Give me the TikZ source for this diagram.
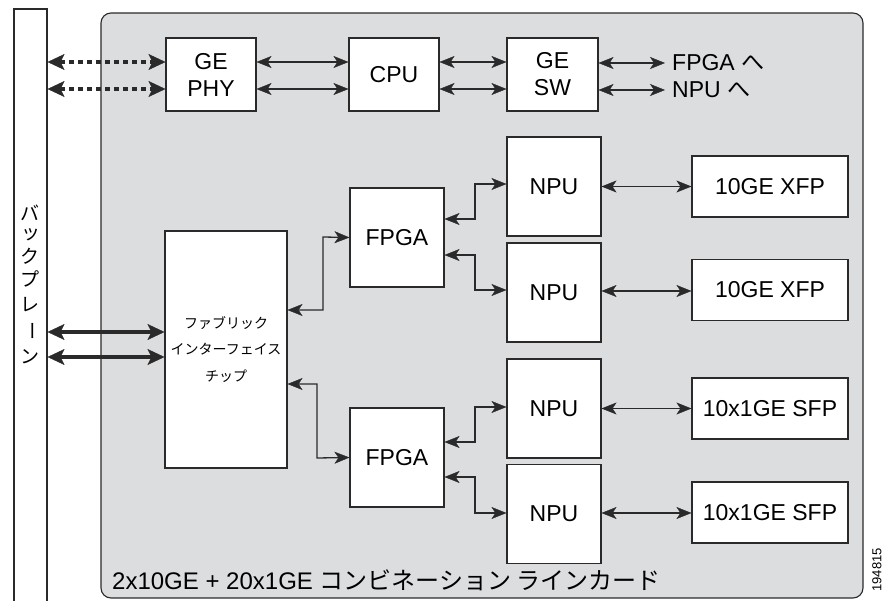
\documentclass[tikz,border=0pt]{standalone}
\usepackage{fontspec}
\usepackage{graphicx}
\setmainfont{Liberation Sans}
\newfontfamily\jp{Noto Sans CJK JP}
\usetikzlibrary{arrows.meta}
\definecolor{cardgray}{HTML}{DCDDDF}
\definecolor{ink}{HTML}{2A2A2A}
\begin{document}
\begin{tikzpicture}[x=1pt,y=-1pt,
  blk/.style={draw=ink, line width=1.1pt, fill=white, inner sep=0pt, align=center,
    font=\fontsize{23}{27}\selectfont},
  conn/.style={draw=ink, line width=1.3pt,
    {Stealth[length=15pt,width=12pt,inset=4pt,line width=0.4pt]}-{Stealth[length=15pt,width=12pt,inset=4pt,line width=0.4pt]}},
  fat/.style={draw=ink, line width=4pt,
    {Stealth[length=17pt,width=16pt,inset=4pt,line width=0.4pt]}-{Stealth[length=17pt,width=16pt,inset=4pt,line width=0.4pt]}},
  dots/.style={draw=ink, line width=4.5pt, dash pattern=on 5pt off 4pt,
    {Stealth[length=17pt,width=16pt,inset=4pt,line width=0.4pt]}-{Stealth[length=17pt,width=16pt,inset=4pt,line width=0.4pt]}},
  bpchar/.style={font=\jp\fontsize{19}{19}\selectfont, inner sep=0pt},
  lbl/.style={font=\fontsize{23}{27}\selectfont, inner sep=0pt}
]
\useasboundingbox (0,0) rectangle (884,601);

% backplane
\node[draw=ink, line width=1.1pt, fill=white, minimum width=33pt, minimum height=600pt, inner sep=0pt] (bp) at (30.5,309) {};
\node[bpchar] (c1) at (30,213) {バ};
\node[bpchar] (c2) at (31,235) {ッ};
\node[bpchar] (c3) at (30,256) {ク};
\node[bpchar] (c4) at (30,279) {プ};
\node[bpchar] (c5) at (30,305) {レ};
\node[bpchar, rotate=-90] (c6) at (30,331) {ー};
\node[bpchar] (c7) at (30,357) {ン};

% line card
\draw[draw=ink, line width=1.1pt, fill=cardgray, rounded corners=10pt] (101,13) rectangle (863,598);

% top row
\node[blk, minimum width=90pt, minimum height=73pt] (phy) at (211,74.5) {GE\\PHY};
\node[blk, minimum width=90pt, minimum height=73pt] (cpu) at (394,74.5) {CPU};
\node[blk, minimum width=91pt, minimum height=73pt] (gesw) at (552.5,74.5) {GE\\SW};

\coordinate (f1) at (665,63);
\coordinate (f2) at (665,90);
\node[lbl, anchor=west] (t1) at ([xshift=7pt]f1) {FPGA {\jp へ}};
\node[lbl, anchor=west] (t2) at ([xshift=7pt]f2) {NPU {\jp へ}};

\draw[dots] (bp.east |- 0,62) -- (phy.west |- 0,62);
\draw[dots] (bp.east |- 0,89) -- (phy.west |- 0,89);
\draw[conn] (phy.east |- 0,62) -- (cpu.west |- 0,62);
\draw[conn] (phy.east |- 0,89) -- (cpu.west |- 0,89);
\draw[conn] (cpu.east |- 0,62) -- (gesw.west |- 0,62);
\draw[conn] (cpu.east |- 0,89) -- (gesw.west |- 0,89);
\draw[conn] (gesw.east |- f1) -- (f1);
\draw[conn] (gesw.east |- f2) -- (f2);

% fabric chip
\node[blk, minimum width=122pt, minimum height=237pt, font=\jp\fontsize{14}{26.5}\selectfont] (fab) at (226,349.5)
  {ファブリック\\インターフェイス\\チップ};
\draw[fat] (bp.east |- 0,332) -- (fab.west |- 0,332);
\draw[fat] (bp.east |- 0,357) -- (fab.west |- 0,357);

% FPGAs
\node[blk, minimum width=94pt, minimum height=99pt] (fpga1) at (397,237.5) {FPGA};
\node[blk, minimum width=94pt, minimum height=99pt] (fpga2) at (397,457.5) {FPGA};

% NPUs
\node[blk, minimum width=94pt, minimum height=99pt] (npu1) at (554,186.5) {NPU};
\node[blk, minimum width=94pt, minimum height=99pt] (npu2) at (554,292.5) {NPU};
\node[blk, minimum width=94pt, minimum height=99pt] (npu3) at (554,408.5) {NPU};
\node[blk, minimum width=94pt, minimum height=99pt] (npu4) at (554,514) {NPU};

% modules
\node[blk, minimum width=156pt, minimum height=61pt] (m1) at (770,186.5) {10GE XFP};
\node[blk, minimum width=156pt, minimum height=61pt] (m2) at (770,290) {10GE XFP};
\node[blk, minimum width=156pt, minimum height=61pt] (m3) at (770,408.5) {10x1GE SFP};
\node[blk, minimum width=156pt, minimum height=61pt] (m4) at (770,512.5) {10x1GE SFP};

% fabric <-> FPGA
\draw[conn] (fab.east |- 0,310) -| (323,237) -- (fpga1.west);
\draw[conn] (fab.east |- 0,384) -| (317,458) -- (fpga2.west);

% FPGA <-> NPU
\draw[conn] (fpga1.east |- 0,219) -| (475,184) -- (npu1.west |- 0,184);
\draw[conn] (fpga1.east |- 0,255) -| (475,290) -- (npu2.west |- 0,290);
\draw[conn] (fpga2.east |- 0,442) -| (475,407) -- (npu3.west |- 0,407);
\draw[conn] (fpga2.east |- 0,477) -| (475,513) -- (npu4.west |- 0,513);

% NPU <-> modules
\draw[conn] (npu1.east |- m1) -- (m1.west);
\draw[conn] (npu2.east |- 0,291) -- (m2.west |- 0,291);
\draw[conn] (npu3.east) -- (m3.west);
\draw[conn] (npu4.east |- 0,513) -- (m4.west |- 0,513);

% card label
\node[anchor=west, inner sep=0pt, font=\fontsize{24}{26}\selectfont] (cardlbl) at (112,580)
  {2x10GE + 20x1GE {\jp コンビネーション ラインカード}};

% figure number
\node[rotate=90, anchor=east, inner sep=0pt, font=\fontsize{13}{13}\selectfont] (fig) at (877,548) {194815};
\end{tikzpicture}
\end{document}
